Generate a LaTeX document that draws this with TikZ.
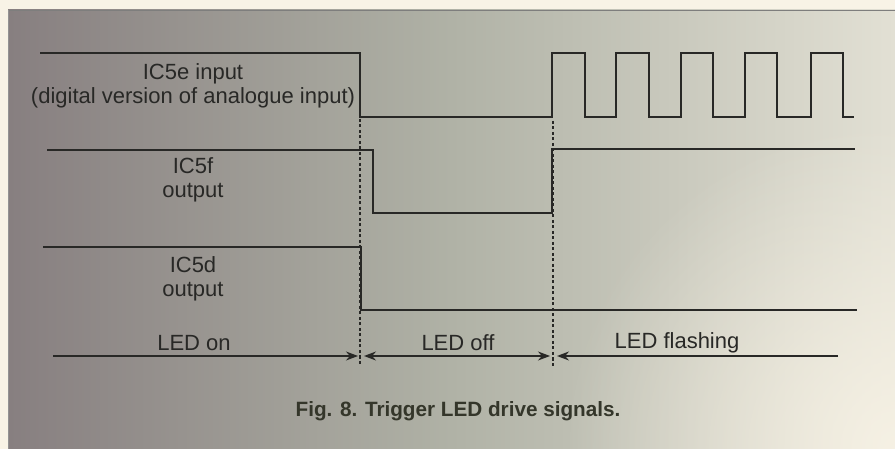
\documentclass[tikz,border=0pt]{standalone}
\usepackage{fontspec}
\usetikzlibrary{arrows.meta,fadings}
\newfontfamily\lblfont{Liberation Sans}
\definecolor{cream}{RGB}{248,243,230}
\definecolor{panelL}{RGB}{135,127,128}
\definecolor{panelM}{RGB}{176,178,166}
\definecolor{panelR}{RGB}{226,224,212}
\definecolor{ink}{RGB}{40,40,38}
\definecolor{capink}{RGB}{52,54,42}
\tikzfading[name=radfade, inner color=transparent!0, outer color=transparent!100]
\tikzset{
  sig/.style={draw=ink, line width=1.4pt, line join=miter},
  guide/.style={draw=ink, line width=1.5pt, dash pattern=on 3pt off 2.5pt},
  span/.style={draw=ink, line width=1.3pt},
  tipone/.style={-{Stealth[length=12pt,width=9pt]}},
  tiptwo/.style={{Stealth[length=12pt,width=9pt]}-{Stealth[length=12pt,width=9pt]}},
  lbl/.style={font=\lblfont\fontsize{22}{24.5}\selectfont, text=ink, inner sep=0pt, align=center},
  captext/.style={font=\lblfont\bfseries\fontsize{20.7}{24}\selectfont, text=capink, inner sep=0pt}
}
\begin{document}
\begin{tikzpicture}[x=1pt,y=-1pt]
\useasboundingbox (0,0) rectangle (895,449);
% background
\fill[cream] (0,0) rectangle (895,449);
\begin{scope}
\clip (8,10) rectangle (895,449);
\shade[left color=panelL, right color=panelR, middle color=panelM] (8,10) rectangle (895,449);
\fill[cream, path fading=radfade, fill opacity=0.9] (895,449) circle[radius=330];
\end{scope}
\draw[ink!60, line width=0.8pt] (8,10) -- (895,10);
\draw[ink!50, line width=0.6pt] (8,10) -- (8,449);

% signal 1: IC5e input
\draw[sig] (40,53) -- (360,53) -- (360,117) -- (552,117)
  -- (552,53) -- (585,53) -- (585,117) -- (616,117) -- (616,53) -- (649,53) -- (649,117)
  -- (681,117) -- (681,53) -- (713,53) -- (713,117) -- (745,117) -- (745,53) -- (777,53)
  -- (777,117) -- (811,117) -- (811,53) -- (843,53) -- (843,117) -- (854,117);
% signal 2: IC5f output
\draw[sig] (47,150) -- (373,150) -- (373,213) -- (552,213) -- (552,149) -- (855,149);
% signal 3: IC5d output
\draw[sig] (43,247) -- (361,247) -- (361,310) -- (857,310);

% dotted guides
\coordinate (g0a) at (360,119);
\coordinate (g0b) at (360,366);
\coordinate (g1a) at (553,121);
\coordinate (g1b) at (553,366);
\draw[guide] (g0a) -- (g0b);
\draw[guide] (g1a) -- (g1b);

% span arrows
\coordinate (onL) at (53,356);
\coordinate (onR) at (358,356);
\coordinate (offL) at (364,356);
\coordinate (offR) at (550,356);
\coordinate (flL) at (557,356);
\coordinate (flR) at (838,356);
\draw[span, tipone] (onL) -- (onR);
\draw[span, tiptwo] (offL) -- (offR);
\draw[span, tipone] (flR) -- (flL);

% labels
\node[lbl] (ic5e) at (193,86) {IC5e input\\(digital version of analogue input)};
\node[lbl] (ic5f) at (193,180) {IC5f\\output};
\node[lbl] (ic5d) at (193,279) {IC5d\\output};
\node[lbl] (ledon) at (194,343) {LED on};
\node[lbl] (ledoff) at (458,343) {LED off};
\node[lbl] (ledfl) at (677,343) {LED flashing};
\node[captext] (caption) at (458,411) {Fig. 8. Trigger LED drive signals.};
\end{tikzpicture}
\end{document}
